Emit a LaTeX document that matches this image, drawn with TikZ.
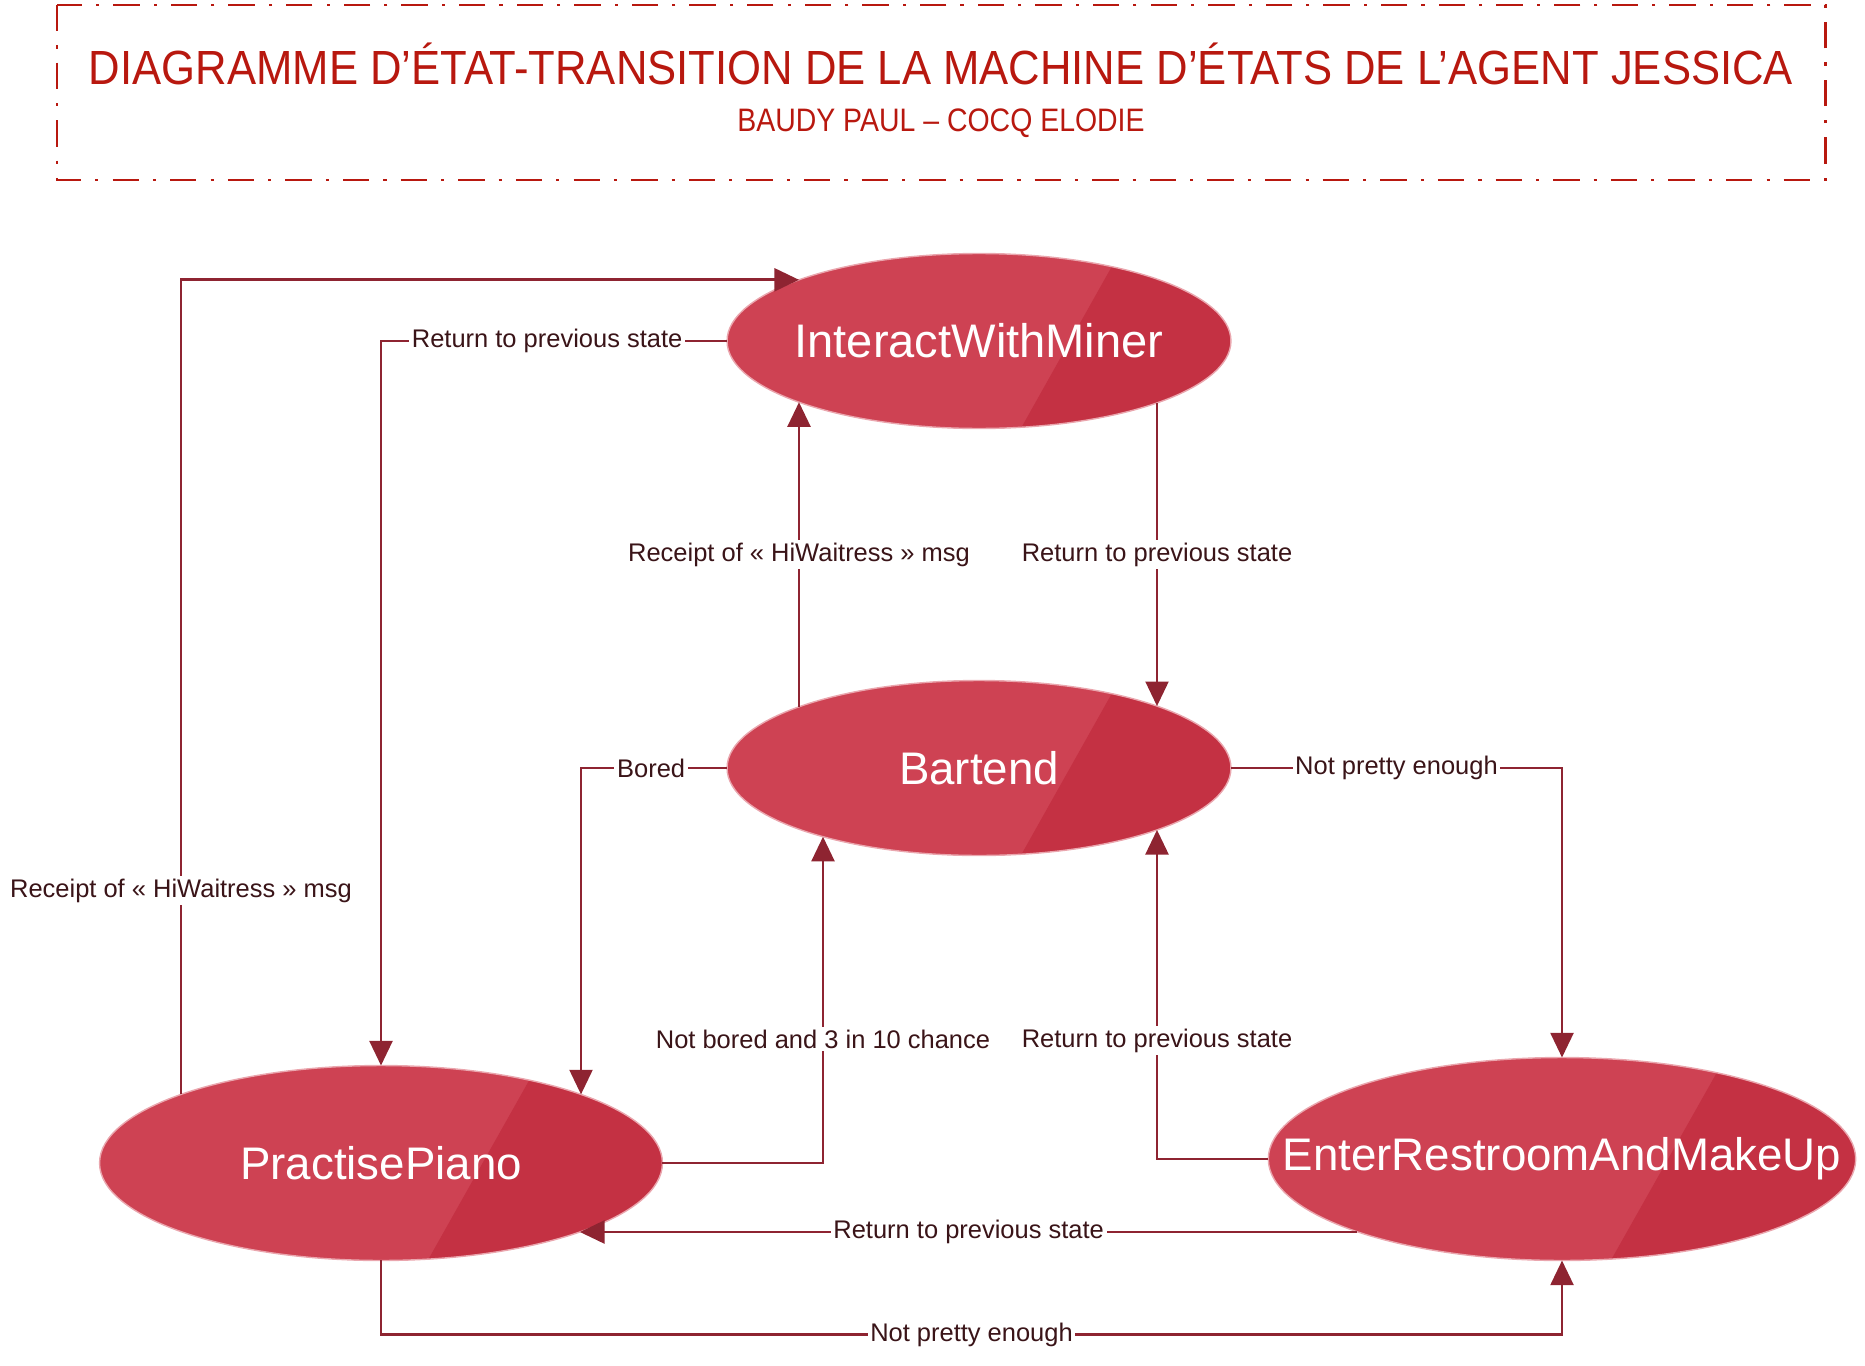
\documentclass[tikz,border=0pt]{standalone}
\usepackage{fontspec}
\setmainfont{Liberation Sans}
\newfontfamily\headfont[FakeStretch=0.91]{Liberation Sans}
\newfontfamily\subfont[FakeStretch=0.875]{Liberation Sans}
\usepackage{tikz}
\usetikzlibrary{arrows.meta,calc,shapes.geometric}
\definecolor{statefill}{HTML}{CE4253}
\definecolor{stateshade}{HTML}{C43143}
\definecolor{staterim}{HTML}{EAA6AE}
\definecolor{wire}{HTML}{8E2431}
\definecolor{headred}{HTML}{B8180F}
\definecolor{labeltext}{HTML}{3A1418}

\begin{document}
\begin{tikzpicture}[x=0.02cm,y=-0.02cm,
  st/.style={ellipse,draw=staterim,line width=0.8pt,fill=statefill,inner sep=0pt,outer sep=0pt,text=white,font=\fontsize{26}{30}\selectfont,
    path picture={\fill[stateshade] ($(path picture bounding box.north west)!0.778!(path picture bounding box.north east)$) -- (path picture bounding box.north east)
      -- (path picture bounding box.south east) -- ($(path picture bounding box.south west)!0.583!(path picture bounding box.south east)$) -- cycle;}},
  tr/.style={draw=wire,line width=1.55pt,-{Triangle[length=14pt,width=13pt]}},
  lbl/.style={fill=white,text=labeltext,inner sep=1.5pt,font=\fontsize{14.5}{17}\selectfont}]
  \useasboundingbox (0,0) rectangle (1865,1365);
  % header
  \draw[headred,line width=1.7pt,dash pattern=on 15pt off 8pt on 1.8pt off 8pt] (57,5) rectangle (1825,180);
  \node[anchor=base,text=headred,font=\headfont\fontsize{27.3}{32}\selectfont] (ttl) at (941,85) {DIAGRAMME D’ÉTAT-TRANSITION DE LA MACHINE D’ÉTATS DE L’AGENT JESSICA};
  \node[anchor=base,text=headred,font=\subfont\fontsize{18.5}{22}\selectfont] (sub) at (941,132) {BAUDY PAUL – COCQ ELODIE};
  % states
  \node[st,minimum width=10.08cm,minimum height=3.5cm,font=\fontsize{26.8}{30}\selectfont] (iwm) at (979,341) {\makebox[0pt]{InteractWithMiner}};
  \node[st,minimum width=10.08cm,minimum height=3.5cm] (bar) at (979,768) {\makebox[0pt]{Bartend}};
  \node[st,minimum width=11.26cm,minimum height=3.9cm] (pp) at (381,1163) {\makebox[0pt]{PractisePiano}};
  \node[st,minimum width=11.75cm,minimum height=4.06cm] (eram) at (1562,1159) {\makebox[0pt]{EnterRestroomAndMakeUp}};
  % transitions (end points on the ellipse rims, relative to the centres)
  \draw[tr] ($(pp.center)+(-200,-68.6)$) |- node[lbl,pos=0.125]{Receipt of « HiWaitress » msg} ($(iwm.center)+(-180,-61.2)$);
  \draw[tr] (iwm.west) -| node[lbl,pos=0.26]{Return to previous state} (pp.north);
  \draw[tr] ($(bar.center)+(-180,-61.2)$) -- node[lbl]{Receipt of « HiWaitress » msg} ($(iwm.center)+(-180,61.2)$);
  \draw[tr] ($(iwm.center)+(178,61.9)$) -- node[lbl]{Return to previous state} ($(bar.center)+(178,-61.9)$);
  \draw[tr] (bar.west) -| node[lbl,pos=0.26]{Bored} ($(pp.center)+(200,-68.6)$);
  \draw[tr] (pp.east) -| node[lbl,pos=0.69]{Not bored and 3 in 10 chance} ($(bar.center)+(-156,68.7)$);
  \draw[tr] (bar.east) -| node[lbl,pos=0.25]{Not pretty enough} (eram.north);
  \draw[tr] (eram.west) -| node[lbl,pos=0.68]{Return to previous state} ($(bar.center)+(178,61.9)$);
  \draw[tr] ($(eram.center)+(-204.6,73)$) -- node[lbl]{Return to previous state} ($(pp.center)+(198.9,69)$);
  \draw[tr] (pp.south) -- ++(0,74) -| node[lbl,pos=0.25]{Not pretty enough} (eram.south);
\end{tikzpicture}
\end{document}
